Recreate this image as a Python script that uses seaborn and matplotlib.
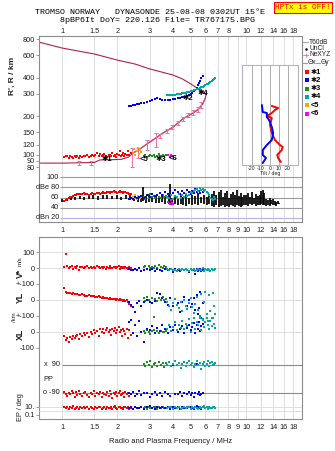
import matplotlib
matplotlib.use("Agg")
import matplotlib.pyplot as plt
import matplotlib.ticker as mticker
import seaborn as sns

sns.set_style("white")
plt.rcParams["font.family"] = ["Liberation Sans", "DejaVu Sans"]
plt.rcParams["font.size"] = 5.3

# ---------------- frequency axis ----------------
freq_ticks = [1, 1.5, 2, 3, 4, 5, 6, 7, 8, 9, 10, 12, 14, 16, 18]
freq_labels = ["1", "1.5", "2", "3", "4", "5", "6", "7", "8", "9", "10", "12", "14", "16", "18"]
freq_labels_top = ["1", "1.5", "2", "3", "4", "5", "6", "7", "8", "", "10", "12", "14", "16", "18"]
F_LIM = (0.75, 20.1)

# ---------------- echo class *1 (E region, red) ----------------
red_f = [1.03, 1.05, 1.07, 1.09, 1.11, 1.13, 1.15, 1.17, 1.19, 1.21,
         1.23, 1.25, 1.28, 1.31, 1.34, 1.37, 1.40, 1.43, 1.46, 1.49,
         1.52, 1.55, 1.58, 1.61, 1.64, 1.67, 1.70, 1.73, 1.76, 1.79,
         1.82, 1.85, 1.88, 1.91, 1.94, 1.97, 2.00, 2.03, 2.06, 2.09,
         2.12, 2.15, 2.18, 2.21, 2.24, 2.28, 2.32, 2.38]
red_h = [96, 98, 97, 95, 97, 96, 95, 97, 96, 98,
         95, 97, 96, 98, 97, 99, 96, 98, 100, 97,
         99, 103, 98, 101, 97, 99, 102, 98, 96, 100,
         99, 97, 104, 98, 100, 96, 101, 99, 106, 97,
         100, 103, 98, 102, 99, 107, 100, 104]
red_amp = [53, 56, 58, 60, 61, 62, 63, 64, 65, 66,
           66, 67, 66, 68, 67, 66, 65, 67, 68, 67,
           66, 68, 69, 67, 68, 70, 69, 68, 70, 71,
           69, 70, 71, 72, 70, 71, 69, 70, 72, 71,
           70, 69, 71, 70, 68, 69, 67, 66]
red_vs = [5, 88, 10, 2, 8, 15, -5, 6, 3, 12,
          -10, 4, 8, 0, 5, 10, -2, 6, 3, 8,
          0, 12, 4, -3, 7, 2, 9, -6, 5, 1,
          10, 3, -2, 6, 8, 0, 4, 11, -4, 5,
          2, 7, -1, 9, 3, -8, 4, 0]
red_yl = [75, 48, 46, 44, 42, 40, 45, 38, 36, 40,
          34, 32, 35, 30, 28, 26, 30, 24, 22, 25,
          20, 18, 22, 16, 14, 18, 12, 10, 14, 8,
          12, 6, 9, 4, 8, 2, 6, 0, 5, -2,
          3, -4, 0, -6, -3, -10, -25, -40]
red_xl = [-30, -55, -40, -62, -35, -48, -25, -40, -30, -20,
          -45, -15, -30, -10, -22, -5, -35, 0, -12, 10,
          -8, 5, -25, 15, -3, 20, -10, 8, 25, -2,
          12, -18, 18, 4, 22, -6, 14, 28, 0, 10,
          -30, 20, 6, -15, 16, -40, 8, -20]
red_pp = [-85, -95, -110, -88, -100, -78, -92, -115, -86, -105,
          -80, -98, -112, -90, -84, -102, -118, -88, -95, -76,
          -108, -92, -100, -82, -115, -90, -96, -104, -86, -110,
          -80, -94, -120, -88, -100, -84, -112, -92, -78, -106,
          -96, -88, -116, -82, -100, -90, -108, -94]
red_ep = [8, 5, 12, 3, 9, 6, 14, 4, 7, 10,
          3, 8, 5, 12, 6, 9, 4, 11, 7, 3,
          10, 5, 8, 13, 4, 6, 9, 3, 12, 7,
          5, 10, 4, 8, 14, 6, 3, 9, 11, 5,
          7, 4, 12, 8, 6, 10, 3, 7]

# ---------------- echo class *2 (F trace, blue) ----------------
blue_f = [2.30, 2.36, 2.42, 2.50, 2.56, 2.62, 2.70, 2.80, 2.90, 3.00,
          3.10, 3.20, 3.30, 3.40, 3.50, 3.62, 3.75, 3.88, 4.00, 4.12,
          4.25, 4.38, 4.50, 4.62, 4.75, 4.88, 5.00, 5.10, 5.20, 5.30,
          5.40, 5.48, 5.56, 5.64, 5.72, 5.80]
blue_h = [240, 242, 244, 246, 248, 250, 252, 255, 258, 262,
          266, 270, 276, 273, 268, 266, 266, 268, 270, 272,
          275, 278, 281, 284, 288, 292, 297, 304, 312, 322,
          334, 348, 362, 378, 396, 414]
blue_amp = [58, 60, 57, 62, 59, 61, 63, 60, 64, 62,
            66, 63, 65, 68, 64, 70, 67, 72, 69, 74,
            70, 66, 72, 68, 75, 71, 67, 73, 69, 76,
            70, 66, 72, 68, 74, 70]
blue_vs = [-5, -10, -15, -8, -12, -3, -18, -10, -6, -14,
           -9, -20, -4, -11, -16, -7, -13, -9, -22, -5,
           -12, -17, -8, -14, -10, -25, -6, -15, -11, -40,
           -9, -18, -13, -7, -20, -12]
blue_yl = [-10, -30, -44, -75, -20, -5, -35, -15, 0, -10,
           -20, -5, 44, 40, 10, -15, -30, 15, -40, 5,
           -20, -75, -10, 19, -35, 0, -44, -25, 10, -60,
           30, -90, -50, 50, -110, -20]
blue_xl = [60, 75, -10, 45, -25, 70, 0, -65, 20, 10,
           35, -5, 25, 5, 40, 15, -6, 30, 10, 45,
           0, 20, 35, -5, 25, 40, 10, 30, 55, -10,
           45, 20, 65, 5, 35, 50]
blue_pp = [-90, -100, -85, -110, -95, -80, -105, -92, -88, -115,
           -98, -84, -102, -90, -108, -86, -96, -112, 90, -94,
           -100, -82, -110, -90, -98, -86, -104, -92, -116, -88,
           95, -100, -84, -106, -94, -90]
blue_ep = [6, 9, 4, 12, 7, 5, 10, 3, 8, 14,
           6, 4, 11, 7, 9, 5, 12, 3, 8, 6,
           10, 4, 13, 7, 5, 9, 11, 6, 4, 8,
           15, 5, 10, 7, 3, 9]

# ---------------- echo class *3 (green) ----------------
green_f = [2.78, 2.84, 2.90, 2.96, 3.02, 3.08, 3.14, 3.20, 3.28, 3.36, 3.44, 3.52, 3.60, 3.68]
green_h = [97, 99, 96, 98, 100, 97, 99, 96, 98, 101, 97, 99, 98, 100]
green_amp = [62, 58, 64, 60, 66, 61, 63, 59, 65, 62, 60, 64, 61, 63]
green_vs = [5, 10, -5, 15, 0, 8, -3, 12, 2, 20, 6, -2, 10, 4]
green_yl = [10, -5, 20, 0, -10, 15, -106, 5, -8, 12, 0, 18, -3, 8]
green_xl = [5, -8, 10, 0, -12, 3, 8, -5, 2, -10, 6, 0, -3, 4]
green_pp = [95, 80, 105, 88, 110, 75, 92, 100, 84, 108, 90, 98, 78, 102]
green_ep = [6, 9, 4, 11, 7, 5, 12, 8, 3, 10, 6, 9, 5, 7]

# ---------------- echo class *4 (teal) ----------------
teal_f = [3.70, 3.80, 3.90, 4.00, 4.10, 4.20, 4.30, 4.40, 4.50, 4.60,
          4.70, 4.80, 4.90, 5.00, 5.10, 5.20, 5.30, 5.40, 5.50, 5.60,
          5.70, 5.80, 5.90, 6.00, 6.10, 6.20, 6.30, 6.40, 6.50, 6.60,
          6.70, 6.80]
teal_h = [290, 292, 294, 293, 295, 297, 298, 300, 302, 304,
          306, 308, 311, 314, 316, 318, 321, 324, 327, 331,
          336, 340, 345, 349, 354, 358, 363, 368, 373, 380,
          388, 395]
teal_amp = [62, 60, 64, 58, 63, 61, 66, 60, 64, 62,
            67, 63, 65, 70, 68, 72, 74, 76, 73, 78,
            75, 77, 72, 74, 70, 68, 64, 60, 58, 56,
            62, 58]
teal_vs = [-8, -12, -5, -15, -10, -18, -6, -12, -9, -14,
           -4, -11, -16, -8, -13, -7, -20, -10, -5, -15,
           -12, -3, -18, -9, -14, -6, -11, -17, -8, -13,
           -10, -5]
teal_yl = [-10, -40, -60, -20, 5, -30, -50, -15, -70, 0,
           -35, -55, -20, 10, -45, -80, -25, 20, -60, -100,
           40, -120, -10, 50, -85, -130, 30, -70, -110, 45,
           -40, -90]
teal_xl = [20, 40, 5, 30, 60, 10, 45, 25, 70, 15,
           50, 35, 80, 0, 55, 90, 20, 65, 40, 85,
           10, 75, 30, 60, 90, 45, 15, 70, 35, 85,
           50, 25]
teal_pp = [90, 105, 80, 95, 110, 85, 100, 70, 92, 108,
           82, 98, 115, 88, 102, 75, 94, 110, 86, 100,
           65, 96, 106, 84, 92, 112, 80, 98, 104, 88,
           94, 100]
teal_ep = [5, 9, 12, 4, 8, 6, 11, 3, 7, 10,
           5, 13, 8, 4, 9, 6, 12, 7, 3, 10,
           5, 8, 14, 6, 9, 4, 11, 7, 5, 10,
           8, 6]

# ---------------- echo classes <5 (orange) and <6 (magenta) ----------------
orange_f = [2.42, 2.46, 2.50, 2.54, 2.58, 2.62, 2.66, 2.70]
orange_h = [104, 110, 100, 107, 113, 102, 108, 105]
orange_amp = [62, 60, 64, 58, 63, 61, 59, 62]
magenta_f = [3.78, 3.84, 3.90, 3.96, 4.02]
magenta_h = [99, 96, 100, 97, 98]
magenta_amp = [52, 48, 55, 50, 47]

# ---------------- unclassified echo amplitude spread (dBe) ----------------
unc_f = [1.00, 1.06, 1.12, 1.18, 1.25, 1.32, 1.40, 1.48, 1.57, 1.66, 1.76, 1.87, 1.98, 2.10, 2.22, 2.34,
         2.46, 2.58, 2.70, 2.76, 2.86, 2.98, 3.10, 3.22, 3.36, 3.50, 3.64, 3.80, 3.86,
         3.96, 4.10, 4.24, 4.40, 4.56, 4.72, 4.90, 5.08, 5.26, 5.46, 5.66, 5.88, 6.10, 6.32,
         6.55, 6.72, 6.90, 7.08, 7.26, 7.45, 7.65, 7.85, 8.05, 8.25, 8.45, 8.66, 8.88, 9.10, 9.32, 9.55, 9.78,
         10.0, 10.25, 10.5, 10.75, 11.0, 11.3, 11.6, 11.9, 12.1, 12.3, 12.55, 12.8, 13.1, 13.4, 13.7, 14.0,
         14.3, 14.6, 14.9, 15.1]
unc_lo = [52, 54, 55, 56, 57, 56, 57, 58, 56, 57, 58, 57, 58, 56, 57, 55,
          53, 52, 51, 54, 50, 52, 51, 50, 49, 51, 48, 47, 49,
          46, 47, 45, 48, 46, 44, 47, 45, 48, 46, 49, 47, 45, 48,
          44, 42, 45, 41, 43, 46, 42, 44, 41, 45, 43, 42, 46, 44, 41, 43, 45,
          46, 44, 47, 45, 48, 44, 46, 45, 47, 46, 45, 43, 46, 44, 47, 45,
          46, 44, 47, 48]
unc_hi = [58, 60, 61, 62, 63, 62, 63, 64, 63, 64, 65, 63, 64, 62, 64, 66,
          60, 64, 62, 80, 63, 66, 61, 64, 60, 67, 62, 64, 86,
          60, 64, 58, 66, 62, 68, 60, 65, 63, 67, 61, 64, 62, 66,
          66, 72, 64, 70, 75, 62, 69, 73, 60, 67, 71, 64, 74, 63, 68, 61, 65,
          64, 68, 62, 70, 60, 66, 63, 65, 73, 75, 68, 58, 56, 60, 55, 57,
          54, 52, 53, 50]

# ---------------- electron density profile (plasma frequency vs true height) ----------------
prof_f = [0.75, 1.0, 1.5, 2.0, 2.5, 3.0, 3.5, 4.0, 4.5, 5.0, 5.5, 5.9, 6.05, 6.0, 5.8,
          5.4, 5.1, 4.54, 4.0, 3.54, 3.28, 2.93, 2.65, 2.43, 2.3, 2.1, 1.6, 1.5, 1.0, 0.75]
prof_h = [757, 681, 611, 548, 510, 467, 441, 419, 391, 357, 326, 308, 290, 277, 248,
          222, 210, 191, 164, 148, 137, 123, 111, 103, 96, 92, 91, 87, 86, 86]
err_f = [1.24, 1.44, 2.40, 2.60, 2.90, 3.25, 3.40, 3.70, 3.95, 4.25, 4.55, 4.85, 5.15, 5.45, 5.70]
err_lo = [83, 83, 80, 95, 108, 114, 134, 148, 158, 170, 184, 196, 204, 214, 232]
err_hi = [89, 89, 113, 113, 130, 147, 144, 160, 172, 184, 198, 212, 222, 234, 256]

# ---------------- wavefront tilt profiles ----------------
tilt_hx = [277, 271, 265, 256, 247, 241, 220, 196, 175, 160, 154, 145, 130, 121, 109]
tilt_x = [2, 9, 5.5, 2, -3.5, 2, 0, 2, 5.5, 11, 14, 13, 8, 9, 12]
tilt_hy = [280, 259, 256, 244, 235, 214, 196, 175, 160, 145, 130, 121, 106]
tilt_y = [-9, -8, -3.5, -3.5, -1, 2, 3.5, 2, -3.5, -8, -8, -4.5, -8]

# ---------------- axis values ----------------
r_ticks = [80, 90, 100, 120, 150, 200, 300, 400, 600, 800]
db_ticks = [100, 80, 60, 40, 20]
db_labels = ["100", "dBe 80", "60", "40", "dBn 20"]

# ---------------- colours ----------------
C_RED, C_BLUE, C_GREEN, C_TEAL = "#ff0000", "#0000ff", "#1e8c1e", "#00a8a8"
C_ORANGE, C_MAGENTA = "#ffa500", "#ff00ff"
C_PROF, C_BOTTOM, C_ERR = "#b0204c", "#d04a7c", "#f070a0"
C_GRID, C_FRAME, C_TXT = "#d9d9d9", "#8c8c8c", "#202020"

W, H = 335, 451
fig = plt.figure(figsize=(W / 100, H / 100), dpi=100)
fig.patch.set_facecolor("white")


def rect(x0, y0, x1, y1):
    return [x0 / W, 1 - y1 / H, (x1 - x0) / W, (y1 - y0) / H]


def ftext(x, y, s, **kw):
    kw.setdefault("color", C_TXT)
    fig.text(x / W, 1 - y / H, s, **kw)


def freq_axis(ax, labels=None, where="bottom", pad=3.5):
    ax.set_xscale("log")
    ax.set_xlim(*F_LIM)
    ax.xaxis.set_major_locator(mticker.FixedLocator(freq_ticks))
    ax.xaxis.set_minor_locator(mticker.NullLocator())
    if labels is None:
        ax.set_xticklabels([])
        ax.tick_params(axis="x", length=0, labelbottom=False, labeltop=False)
    else:
        ax.set_xticklabels(labels)
        ax.tick_params(axis="x", length=0, pad=pad, labelsize=5.3, labelcolor=C_TXT,
                       labelbottom=(where == "bottom"), labeltop=(where == "top"))
    ax.grid(axis="x", color=C_GRID, lw=0.6)
    ax.set_axisbelow(True)


def frame(ax, sides):
    for s in ["left", "right", "top", "bottom"]:
        ax.spines[s].set_visible(s in sides)
        ax.spines[s].set_color(C_FRAME)
        ax.spines[s].set_linewidth(0.8)


def dots(ax, x, y, color, s=3.4):
    sns.scatterplot(x=x, y=y, ax=ax, color=color, marker="s", s=s, linewidth=0,
                    legend=False, zorder=4, clip_on=False)


# ================= virtual / true height panel =================
ax_r = fig.add_axes(rect(39, 36, 302, 170))
sns.lineplot(x=prof_f, y=prof_h, ax=ax_r, sort=False, estimator=None, color=C_PROF, lw=0.8, zorder=2)
# bottomside part of the profile, from the peak down to the E-F valley
sns.lineplot(x=prof_f[13:24], y=prof_h[13:24], ax=ax_r, sort=False, estimator=None,
             color=C_BOTTOM, lw=0.8, zorder=2)
err_mid = [(lo + hi) / 2 for lo, hi in zip(err_lo, err_hi)]
ax_r.errorbar(err_f, err_mid, yerr=[[m - lo for m, lo in zip(err_mid, err_lo)],
                                    [hi - m for m, hi in zip(err_mid, err_hi)]],
              fmt="none", ecolor=C_ERR, elinewidth=0.7, capsize=1.4, capthick=0.7, zorder=3)
dots(ax_r, red_f, red_h, C_RED)
dots(ax_r, orange_f, orange_h, C_ORANGE)
dots(ax_r, green_f, green_h, C_GREEN)
dots(ax_r, magenta_f, magenta_h, C_MAGENTA)
dots(ax_r, blue_f, blue_h, C_BLUE)
dots(ax_r, teal_f, teal_h, C_TEAL)
ax_r.set_yscale("log")
ax_r.set_ylim(76, 845)
ax_r.yaxis.set_major_locator(mticker.FixedLocator(r_ticks))
ax_r.yaxis.set_minor_locator(mticker.NullLocator())
ax_r.set_yticklabels([str(v) for v in r_ticks])
ax_r.tick_params(axis="y", direction="out", length=2, width=0.6, color=C_FRAME, pad=1,
                 labelsize=5.3, labelcolor=C_TXT, left=True)
freq_axis(ax_r, freq_labels_top, where="top", pad=0.8)
frame(ax_r, ["left", "right", "top"])
ax_r.set_xlabel("")
ax_r.set_ylabel("")
for lab, fx, hy in [("✱1", 1.76, 91), ("<5", 2.80, 91), ("✱3", 3.45, 91), ("<6", 4.02, 94),
                    ("✱2", 4.83, 275), ("✱4", 5.85, 303)]:
    ax_r.text(fx, hy, lab, fontsize=5.5, fontweight="bold", color="black",
              ha="center", va="center", zorder=6)

# ================= echo amplitude panel =================
ax_db = fig.add_axes(rect(39, 170, 302, 222))
ax_db.vlines(unc_f, unc_lo, unc_hi, color="black", lw=1.25, zorder=2)
dots(ax_db, red_f, red_amp, C_RED)
dots(ax_db, orange_f, orange_amp, C_ORANGE)
dots(ax_db, green_f, green_amp, C_GREEN)
dots(ax_db, blue_f, blue_amp, C_BLUE)
dots(ax_db, teal_f, teal_amp, C_TEAL)
dots(ax_db, magenta_f, magenta_amp, C_MAGENTA)
ax_db.set_ylim(12, 114)
ax_db.set_yticks([])
freq_axis(ax_db, freq_labels, where="bottom", pad=3.5)
frame(ax_db, ["left", "right", "bottom"])
ax_db.hlines([100, 80, 60, 40], 0.98, F_LIM[1], color="#9a9a9a", lw=0.8, zorder=1)
ax_db.hlines([20], 0.98, F_LIM[1], color="#b4b4f0", lw=0.8, zorder=1)
for v, lab in zip(db_ticks, db_labels):
    ax_db.text(0.965, v, lab, ha="right", va="center", fontsize=5.3, color=C_TXT)
ax_db.set_xlabel("")
ax_db.set_ylabel("")

# ================= tilt inset =================
ax_t = fig.add_axes(rect(242, 65, 298, 165))
ax_t.set_facecolor("white")
sns.lineplot(x=tilt_x, y=tilt_hx, ax=ax_t, sort=False, estimator=None, color=C_RED, lw=1.4)
sns.lineplot(x=tilt_y, y=tilt_hy, ax=ax_t, sort=False, estimator=None, color=C_BLUE, lw=1.4)
ax_t.set_xlim(-31, 31)
ax_t.set_ylim(100, 400)
ax_t.set_xticks([-20, -10, 0, 10, 20])
ax_t.set_xticklabels(["-20", "-10", "0", "10", "20"])
ax_t.set_yticks([])
ax_t.tick_params(axis="x", length=0, pad=1, labelsize=3.8, labelcolor=C_TXT)
ax_t.grid(axis="x", color="#a0a0a0", lw=0.6)
ax_t.set_axisbelow(True)
for s in ax_t.spines.values():
    s.set_color("#b4b4c8")
    s.set_linewidth(0.8)
ax_t.set_xlabel("Tilt / deg", fontsize=3.8, labelpad=0, color=C_TXT)
ax_t.set_ylabel("")

# ================= legend column =================
ax_leg = fig.add_axes(rect(302, 36, 335, 120))
ax_leg.set_xlim(302, 335)
ax_leg.set_ylim(120, 36)
ax_leg.axis("off")
ax_leg.plot([303, 308], [42, 42], color="#a8a8a8", lw=0.8)
ax_leg.text(309, 42, "T60dB", va="center", fontsize=4.8, color=C_TXT)
ax_leg.plot([305.5], [48.5], marker="o", ms=0.8, color="black")
ax_leg.text(309, 48.5, "UnCl", va="center", fontsize=4.8, color=C_TXT)
ax_leg.plot([303, 308], [55, 55], color=C_ERR, lw=0.6)
ax_leg.plot([305.5], [55], marker="+", ms=3, mew=0.6, color=C_ERR)
ax_leg.text(309, 55, "NeXYZ", va="center", fontsize=4.8, color=C_TXT)
ax_leg.plot([303, 307], [63, 63], color=C_ERR, lw=0.8)
ax_leg.text(307.3, 63, "Θx", va="center", fontsize=4.8, color=C_TXT)
ax_leg.plot([315.5, 320], [63, 63], color="#8c8cff", lw=0.8)
ax_leg.text(320.3, 63, "Θy", va="center", fontsize=4.8, color=C_TXT)
for i, (lab, col) in enumerate([("✱1", C_RED), ("✱2", C_BLUE), ("✱3", C_GREEN),
                                ("✱4", C_TEAL), ("<5", C_ORANGE), ("<6", C_MAGENTA)]):
    yy = 72 + i * 8.3
    ax_leg.scatter([307], [yy], marker="s", s=5, color=col, linewidths=0)
    ax_leg.text(311, yy, lab, va="center", fontsize=5.3, fontweight="bold", color="black")

# ================= drift / polarisation panel =================
ax_f = fig.add_axes(rect(39, 237, 302, 419))
ax_f.set_ylim(0, 1)
ax_f.set_yticks([])
freq_axis(ax_f, freq_labels, where="bottom", pad=3.5)
frame(ax_f, ["left", "right", "top", "bottom"])
ax_f.set_xlabel("Radio and Plasma Frequency / MHz", fontsize=5.5, labelpad=5, color=C_TXT)


def sub_axis(box, ylim, ticks, labels, grid, log=False):
    ax = fig.add_axes(rect(39, box[0], 302, box[1]))
    ax.set_facecolor("none")
    for s in ax.spines.values():
        s.set_visible(False)
    ax.set_xscale("log")
    ax.set_xlim(*F_LIM)
    ax.set_xticks([])
    ax.xaxis.set_minor_locator(mticker.NullLocator())
    if log:
        ax.set_yscale("log")
        ax.yaxis.set_minor_locator(mticker.NullLocator())
    ax.set_ylim(*ylim)
    ax.yaxis.set_major_locator(mticker.FixedLocator(ticks))
    ax.set_yticklabels(labels)
    ax.tick_params(axis="y", direction="out", length=2, width=0.6, color=C_FRAME, pad=1,
                   labelsize=5.3, labelcolor=C_TXT, left=bool(ticks))
    if grid:
        ax.hlines(grid, F_LIM[0], F_LIM[1], color=C_GRID, lw=0.6, zorder=0)
    return ax


ax_v = sub_axis((237, 284), (-100, 194), [100, 0, -100], ["100", "0", "+-100"], [100, 0, -100])
ax_yl = sub_axis((284, 316), (-100, 100), [0, -100], ["0", "+-100"], [0, -100])
ax_xl = sub_axis((316, 347.5), (-100, 100), [0, -100], ["0", "-100"], [0, -100])
ax_pp = sub_axis((347.5, 400), (-135, 199), [], [], None)
ax_ep = sub_axis((400, 419), (0.01, 562), [10, 0.1], ["10.", "0.1"], [10, 1], log=True)

ax_pp.hlines([90, -90], 1.0, F_LIM[1], color="#8a8a8a", lw=0.8, zorder=0)
ax_pp.text(0.97, 90, "x  90", ha="right", va="center", fontsize=5.3, color=C_TXT)
ax_pp.text(0.97, -90, "o -90", ha="right", va="center", fontsize=5.3, color=C_TXT)
ax_pp.text(0.795, -6, "PP", ha="left", va="center", fontsize=5.3, color=C_TXT)

for ax, key in [(ax_v, "vs"), (ax_yl, "yl"), (ax_xl, "xl"), (ax_pp, "pp"), (ax_ep, "ep")]:
    dots(ax, red_f, globals()["red_" + key], C_RED)
    dots(ax, green_f, globals()["green_" + key], C_GREEN)
    dots(ax, blue_f, globals()["blue_" + key], C_BLUE)
    dots(ax, teal_f, globals()["teal_" + key], C_TEAL)
    ax.set_xlabel("")
    ax.set_ylabel("")

# ================= side labels =================
ftext(12, 76, "R', R / km", rotation=90, ha="center", va="center", fontsize=6, fontweight="bold")
ftext(20, 273, "V*", rotation=90, ha="center", va="center", fontsize=6.3, fontweight="bold")
ftext(20, 261, "m/s", rotation=90, ha="center", va="center", fontsize=4.3)
ftext(20, 297, "YL", rotation=90, ha="center", va="center", fontsize=6.3, fontweight="bold")
ftext(14, 317, "/km", rotation=90, ha="center", va="center", fontsize=4.3)
ftext(20, 334, "XL", rotation=90, ha="center", va="center", fontsize=6.3, fontweight="bold")
ftext(20, 407, "EP / deg", rotation=90, ha="center", va="center", fontsize=5.3)

# ================= header =================
ftext(35, 12, "TROMSO NORWAY   DYNASONDE 25-08-08 0302UT 15°E", family="Liberation Mono",
      fontsize=6, ha="left", va="center", color="black")
ftext(60, 20.5, "8pBP6It DoY= 220.126 File= TR767175.BPG", family="Liberation Mono",
      fontsize=6, ha="left", va="center", color="black")
ftext(303, 7.5, "HPTx is OFF!", family="Liberation Mono", fontsize=5.6, ha="center", va="center",
      color="#ff0000",
      bbox=dict(boxstyle="square,pad=0.2", fc="#ffff00", ec="#ff0000", lw=0.8))

fig.savefig("out.png", dpi=100)
